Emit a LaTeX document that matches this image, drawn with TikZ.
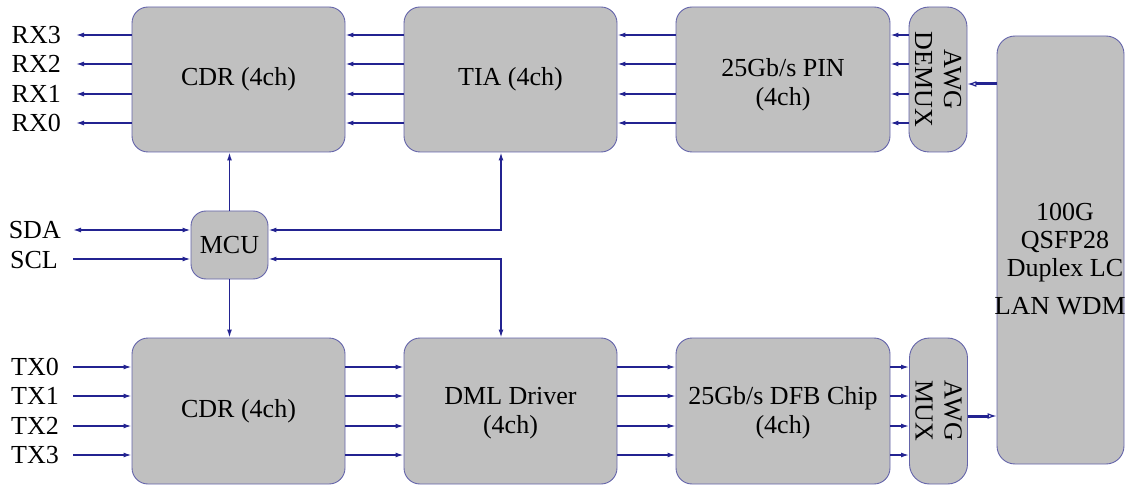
\documentclass[tikz,border=0pt]{standalone}
\usepackage{fontspec}
\setmainfont{Liberation Serif}
\usetikzlibrary{arrows.meta}
\definecolor{linec}{RGB}{35,35,145}
\definecolor{boxd}{RGB}{100,100,170}
\definecolor{boxf}{RGB}{192,192,192}
\begin{document}
\begin{tikzpicture}[x=1pt,y=-1pt,
  txt/.style={inner sep=0pt, align=center, font=\fontsize{26}{29}\selectfont},
  blk/.style={txt, draw=boxd, fill=boxf, line width=0.9pt, rounded corners=16pt},
  lbl/.style={txt, anchor=east},
  wire/.style={draw=linec, line width=1.4pt},
  arr/.style={wire, -{Latex[open,length=8pt,width=5pt]}},
  darr/.style={wire, {Latex[open,length=8pt,width=5pt]}-{Latex[open,length=8pt,width=5pt]}},
  fat/.style={draw=linec, line width=3pt, -{Latex[open,length=9pt,width=6pt,line width=1.2pt]}}
]
\useasboundingbox (0,0) rectangle (1126,486);

% top row
\node[blk, minimum width=213pt, minimum height=145pt] (cdrT) at (238.5,79.5) {CDR (4ch)};
\node[blk, minimum width=213pt, minimum height=145pt] (tia) at (510.5,79.5) {TIA (4ch)};
\node[blk, minimum width=214pt, minimum height=145pt] (pin) at (783,79.5) {};
\node[txt] (pint) at (783,85) {25Gb/s PIN\\(4ch)};
\node[blk, minimum width=58pt, minimum height=145pt, rounded corners=20pt] (demux) at (938,79.5) {};
\node[txt, rotate=-90] (demuxt) at (demux.center) {AWG\\DEMUX};

% bottom row
\node[blk, minimum width=213pt, minimum height=146pt] (cdrB) at (238.5,411) {CDR (4ch)};
\node[blk, minimum width=213pt, minimum height=146pt] (dml) at (510.5,411) {};
\node[txt] (dmlt) at (510.5,413) {DML Driver\\(4ch)};
\node[blk, minimum width=214pt, minimum height=146pt] (dfb) at (783,411) {};
\node[txt] (dfbt) at (783,413) {25Gb/s DFB Chip\\(4ch)};
\node[blk, minimum width=58pt, minimum height=146pt, rounded corners=20pt] (mux) at (938.5,411) {};
\node[txt, rotate=-90] (muxt) at (mux.center) {AWG\\MUX};

% QSFP box
\node[blk, minimum width=127pt, minimum height=428pt, rounded corners=18pt] (qsfp) at (1060.5,250) {};
\node[txt, font=\fontsize{26}{28}\selectfont] (qt) at (1065,243) {100G\\QSFP28\\Duplex LC};
\node[txt] (lan) at (1060,306) {\scalebox{1.04}[1]{LAN WDM}};

% MCU
\node[blk, minimum width=77pt, minimum height=68pt, rounded corners=15pt] (mcu) at (229.5,245) {MCU};

% RX lines
\foreach \y/\n in {35/3,64/2,94/1,123/0} {
  \node[lbl] (rx\n) at (61,\y) {RX\n};
  \coordinate (rxe\n) at (76,\y);
  \draw[arr] (cdrT.west |- rxe\n) -- (rxe\n);
  \draw[arr] (tia.west |- rxe\n) -- (cdrT.east |- rxe\n);
  \draw[arr] (pin.west |- rxe\n) -- (tia.east |- rxe\n);
  \draw[arr] (demux.west |- rxe\n) -- (pin.east |- rxe\n);
}

% TX lines
\foreach \y/\n in {367/0,396/1,426/2,455/3} {
  \node[lbl] (tx\n) at (59,\y) {TX\n};
  \coordinate (txs\n) at (73,\y);
  \draw[arr] (txs\n) -- (cdrB.west |- txs\n);
  \draw[arr] (cdrB.east |- txs\n) -- (dml.west |- txs\n);
  \draw[arr] (dml.east |- txs\n) -- (dfb.west |- txs\n);
  \draw[arr] (dfb.east |- txs\n) -- (mux.west |- txs\n);
}

% fibre side
\coordinate (rxf) at (980,84);
\coordinate (txf) at (980,416);
\draw[fat] (qsfp.west |- rxf) -- (demux.east |- rxf);
\draw[fat] (mux.east |- txf) -- (qsfp.west |- txf);

% management
\node[lbl] (sda) at (61,230) {SDA};
\node[lbl] (scl) at (58,260) {SCL};
\coordinate (sdae) at (73,230);
\coordinate (scle) at (73,259);
\coordinate (busx) at (501,245);
\draw[darr] (sdae) -- (mcu.west |- sdae);
\draw[arr] (scle) -- (mcu.west |- scle);
\draw[arr] (mcu.north) -- (cdrT.south -| mcu.north);
\draw[arr] (mcu.south) -- (cdrB.north -| mcu.south);
\draw[darr] (mcu.east |- sdae) -| (tia.south -| busx);
\draw[darr] (mcu.east |- scle) -| (dml.north -| busx);
\end{tikzpicture}
\end{document}
